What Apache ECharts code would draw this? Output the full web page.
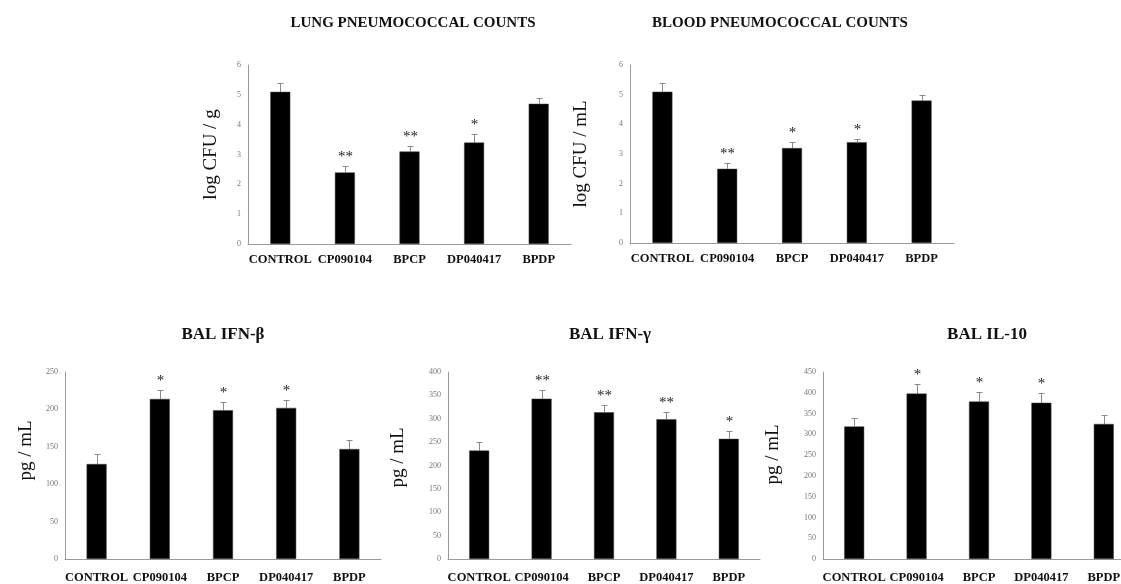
<!DOCTYPE html>
<html>
<head>
<meta charset="utf-8">
<script src="https://cdn.jsdelivr.net/npm/echarts@6/dist/echarts.min.js"></script>
<style>html,body{margin:0;padding:0;background:#fff}#c{width:1121px;height:584px}</style>
</head>
<body>
<div id="c"></div>
<script>
const categories = ['CONTROL', 'CP090104', 'BPCP', 'DP040417', 'BPDP'];

const lungMean = [5.1, 2.4, 3.1, 3.4, 4.7];
const lungErr = [0.3, 0.2, 0.2, 0.3, 0.2];
const lungSig = ['', '**', '**', '*', ''];

const bloodMean = [5.1, 2.5, 3.2, 3.4, 4.8];
const bloodErr = [0.3, 0.2, 0.2, 0.1, 0.2];
const bloodSig = ['', '**', '*', '*', ''];

const ifnbMean = [127, 214, 199, 202, 147];
const ifnbErr = [13, 12, 11, 10, 12];
const ifnbSig = ['', '*', '*', '*', ''];

const ifngMean = [232, 343, 314, 299, 257];
const ifngErr = [18, 18, 16, 16, 17];
const ifngSig = ['', '**', '**', '**', '*'];

const il10Mean = [319, 398, 379, 376, 325];
const il10Err = [20, 23, 23, 23, 21];
const il10Sig = ['', '*', '*', '*', ''];

const titles = ['LUNG PNEUMOCOCCAL COUNTS', 'BLOOD PNEUMOCOCCAL COUNTS', 'BAL IFN-β', 'BAL IFN-γ', 'BAL IL-10'];
const yNames = ['log CFU / g', 'log CFU / mL', 'pg / mL', 'pg / mL', 'pg / mL'];
const yMax = [6, 6, 250, 400, 450];
const yStep = [1, 1, 50, 50, 50];

const FONT = '"Liberation Serif", "Times New Roman", serif';

const charts = [
  {mean: lungMean, err: lungErr, sig: lungSig, grid: {left: 248, width: 323, top: 65, height: 179}, title: {x: 413, y: 16, size: 15}, nameGap: 27, namePad: 0, catMargin: 9},
  {mean: bloodMean, err: bloodErr, sig: bloodSig, grid: {left: 630, width: 324, top: 65, height: 178}, title: {x: 780, y: 16, size: 15}, nameGap: 39, namePad: 0, catMargin: 9},
  {mean: ifnbMean, err: ifnbErr, sig: ifnbSig, grid: {left: 65, width: 316, top: 372, height: 187}, title: {x: 223, y: 326, size: 17}, nameGap: 29, namePad: 30, catMargin: 12},
  {mean: ifngMean, err: ifngErr, sig: ifngSig, grid: {left: 448, width: 312, top: 372, height: 187}, title: {x: 610, y: 326, size: 17}, nameGap: 40, namePad: 16, catMargin: 12},
  {mean: il10Mean, err: il10Err, sig: il10Sig, grid: {left: 823, width: 312, top: 372, height: 187}, title: {x: 987, y: 326, size: 17}, nameGap: 40, namePad: 22, catMargin: 12}
];

const option = {
  backgroundColor: '#fff',
  animation: false,
  title: [], grid: [], xAxis: [], yAxis: [], series: []
};

charts.forEach((c, k) => {
  option.title.push({
    text: titles[k], left: c.title.x, top: c.title.y, textAlign: 'center', padding: 0,
    textStyle: {fontFamily: FONT, fontWeight: 'bold', fontSize: c.title.size, color: '#111'}
  });
  option.grid.push(Object.assign({containLabel: false, outerBoundsMode: 'none'}, c.grid));
  option.xAxis.push({
    type: 'category', gridIndex: k, data: categories,
    axisLine: {lineStyle: {color: '#9a9a9a', width: 1}},
    axisTick: {show: false},
    axisLabel: {interval: 0, margin: c.catMargin, fontFamily: FONT, fontWeight: 'bold', fontSize: 12.5, color: '#111', hideOverlap: false}
  });
  option.yAxis.push({
    type: 'value', gridIndex: k, min: 0, max: yMax[k], interval: yStep[k],
    name: yNames[k], nameLocation: 'middle', nameGap: c.nameGap, nameRotate: 90,
    nameTextStyle: {fontFamily: FONT, fontSize: 19, color: '#111', padding: [0, 0, 0, c.namePad]},
    axisLine: {show: true, lineStyle: {color: '#9a9a9a', width: 1}},
    axisTick: {show: false},
    splitLine: {show: false},
    axisLabel: {margin: 7, fontFamily: FONT, fontSize: 8, color: '#777'}
  });
  option.series.push({
    type: 'bar', xAxisIndex: k, yAxisIndex: k, data: c.mean, barWidth: 20,
    itemStyle: {color: '#000', borderColor: '#444', borderWidth: 0.5}
  });
  const sig = c.sig;
  option.series.push({
    type: 'custom', xAxisIndex: k, yAxisIndex: k, clip: false,
    data: c.mean.map((m, i) => [i, m, c.err[i]]),
    encode: {x: 0, y: 1},
    renderItem: (params, api) => {
      const i = api.value(0), m = api.value(1), e = api.value(2);
      const b = api.coord([i, m]);
      const t = api.coord([i, m + e]);
      const x = Math.round(b[0]) + 0.5;
      const ty = Math.round(t[1]) + 0.5;
      const st = {stroke: '#8a8a8a', lineWidth: 1};
      const children = [
        {type: 'line', shape: {x1: x, y1: b[1], x2: x, y2: ty}, style: st},
        {type: 'line', shape: {x1: x - 3, y1: ty, x2: x + 3, y2: ty}, style: st}
      ];
      const s = sig[params.dataIndex];
      if (s) {
        children.push({type: 'text', style: {text: s, x: x, y: ty - 2, align: 'center', verticalAlign: 'bottom',
          font: '15px ' + FONT, fill: '#222'}});
      }
      return {type: 'group', children};
    }
  });
});

const chart = echarts.init(document.getElementById('c'), null, {renderer: 'canvas'});
chart.setOption(option);
</script>
</body>
</html>
